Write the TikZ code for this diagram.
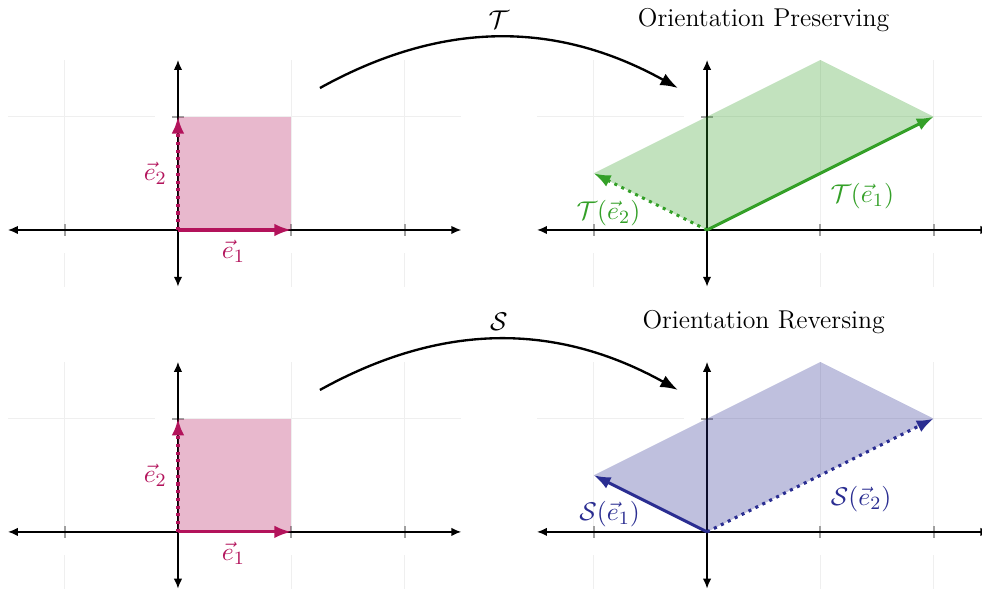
\documentclass[tikz,border=0pt]{standalone}
\usepackage{xcolor}
\definecolor{vecpink}{HTML}{B3135B}
\definecolor{vecgreen}{HTML}{34A028}
\definecolor{vecblue}{HTML}{2A2D91}
\definecolor{gridgray}{HTML}{EFEFEF}
\definecolor{tickgray}{HTML}{A0A0A0}
\usepackage{tikz}
\usetikzlibrary{arrows.meta, calc}
\usepackage{amsmath, amssymb}

% grid, ticks and axes of one plane
\newcommand{\planeframe}{%
  \draw[gridline] (-1.5,1) -- (-0.2,1) (-0.05,1) -- (2.5,1);
  \foreach \gx in {-1,1,2}{
    \draw[gridline] (\gx,-0.5) -- (\gx,-0.2) (\gx,-0.05) -- (\gx,1.5);
    \draw[tickmark] (\gx,-0.05) -- (\gx,0.05);
  }
  \draw[tickmark] (-0.05,1) -- (0.05,1);
  \draw[axisline] (-1.5,0) -- (2.5,0);
  \draw[axisline] (0,-0.5) -- (0,1.5);
}

\begin{document}
\begin{tikzpicture}[
  x = 1.7cm, y = 1.7cm,
  every node/.style = {font=\fontsize{11}{13}\selectfont},
  gridline/.style = {draw=gridgray, line width=0.5pt},
  tickmark/.style = {draw=tickgray, line width=0.8pt},
  axisline/.style = {{Latex[length=4.2pt,width=3.6pt]}-{Latex[length=4.2pt,width=3.6pt]},
                     line width=0.6pt, black},
  vecarr/.style   = {-{Latex[length=7.2pt,width=5.4pt]}, line width=1.3pt},
  dotvec/.style   = {vecarr, dotted},
  region/.style   = {fill opacity=0.3},
  maparr/.style   = {-{Latex[length=7.5pt,width=5.5pt]}, line width=1pt},
  lab/.style      = {inner sep=1pt},
  heading/.style  = {}
]
\useasboundingbox (-1.571,-3.177) rectangle (7.097,2.03);

% ── PLANES ──────────────────────────────────────────────
\foreach \px/\py in {0/0, 4.67/0, 0/-2.665, 4.67/-2.665}{
  \begin{scope}[shift={(\px,\py)}]
    \planeframe
  \end{scope}
}

% ── TOP LEFT: unit square ───────────────────────────────
\fill[vecpink, region] (0,0) rectangle (1,1);
\draw[vecarr, vecpink] (0,0) -- (1,0);
\draw[dotvec, vecpink] (0,0) -- (0,1);
\node[lab, text=vecpink] (e1top) at (0.49,-0.19) {$\vec{e}_1$};
\node[lab, text=vecpink] (e2top) at (-0.2,0.5)   {$\vec{e}_2$};

% ── TOP RIGHT: T ────────────────────────────────────────
\begin{scope}[shift={(4.67,0)}]
  \fill[vecgreen, region] (0,0) -- (2,1) -- (1,1.5) -- (-1,0.5) -- cycle;
  \draw[vecarr, vecgreen] (0,0) -- (2,1);
  \draw[dotvec, vecgreen] (0,0) -- (-1,0.5);
  \node[lab, text=vecgreen] (te1) at (1.37,0.3)   {$\mathcal{T}(\vec{e}_1)$};
  \node[lab, text=vecgreen] (te2) at (-0.87,0.15) {$\mathcal{T}(\vec{e}_2)$};
  \node[heading] (pres) at (0.5,1.85) {Orientation Preserving};
\end{scope}

% ── BOTTOM LEFT: unit square ────────────────────────────
\begin{scope}[shift={(0,-2.665)}]
  \fill[vecpink, region] (0,0) rectangle (1,1);
  \draw[vecarr, vecpink] (0,0) -- (1,0);
  \draw[dotvec, vecpink] (0,0) -- (0,1);
  \node[lab, text=vecpink] (e1bot) at (0.49,-0.19) {$\vec{e}_1$};
  \node[lab, text=vecpink] (e2bot) at (-0.2,0.5)   {$\vec{e}_2$};
\end{scope}

% ── BOTTOM RIGHT: S ─────────────────────────────────────
\begin{scope}[shift={(4.67,-2.665)}]
  \fill[vecblue, region] (0,0) -- (2,1) -- (1,1.5) -- (-1,0.5) -- cycle;
  \draw[vecarr, vecblue] (0,0) -- (-1,0.5);
  \draw[dotvec, vecblue] (0,0) -- (2,1);
  \node[lab, text=vecblue] (se1) at (-0.86,0.16) {$\mathcal{S}(\vec{e}_1)$};
  \node[lab, text=vecblue] (se2) at (1.36,0.29)  {$\mathcal{S}(\vec{e}_2)$};
  \node[heading] (rev) at (0.5,1.85) {Orientation Reversing};
\end{scope}

% ── MAPS ────────────────────────────────────────────────
\coordinate (tfrom) at (1.253,1.253);
\coordinate (tto)   at (4.413,1.253);
\coordinate (sfrom) at (1.253,-1.412);
\coordinate (sto)   at (4.413,-1.412);
\draw[maparr] (tfrom) to[bend left=29] node[midway, above] (tname) {$\mathcal{T}$} (tto);
\draw[maparr] (sfrom) to[bend left=29] node[midway, above] (sname) {$\mathcal{S}$} (sto);

\end{tikzpicture}
\end{document}
